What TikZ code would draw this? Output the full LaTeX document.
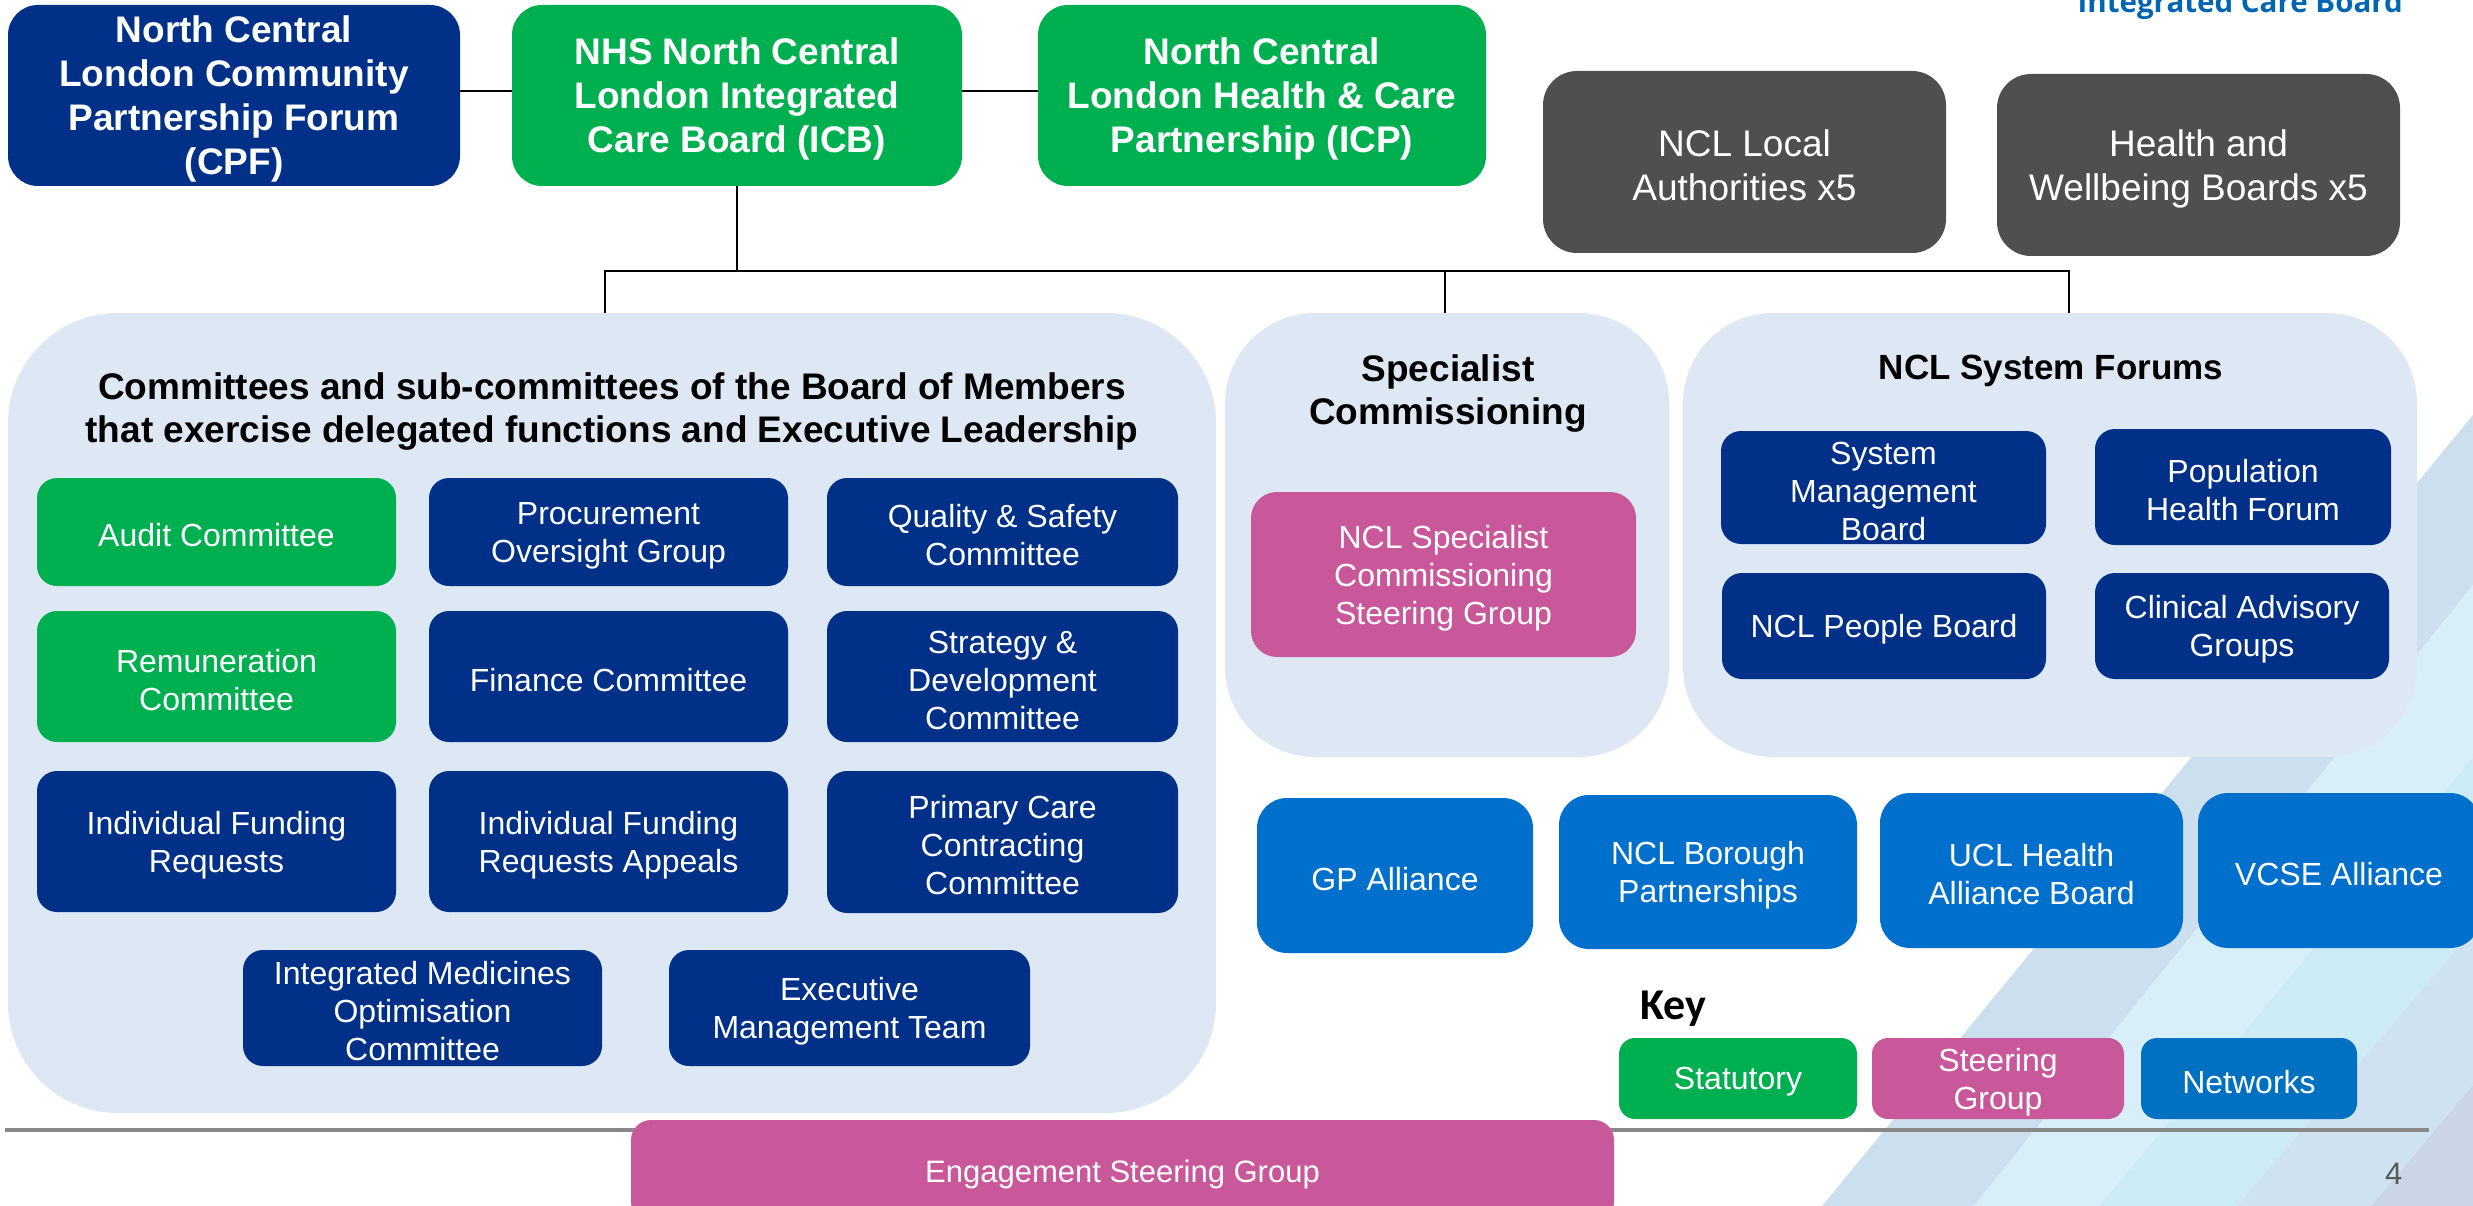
\documentclass[tikz,border=0pt]{standalone}
\usepackage{fontspec}
\setmainfont{Liberation Sans}
\newfontfamily\osans{Open Sans}
\newfontfamily\carl{Carlito}
\definecolor{navy}{HTML}{003087}
\definecolor{stgreen}{HTML}{00B050}
\definecolor{stpink}{HTML}{C9589B}
\definecolor{netblue}{HTML}{0070CC}
\definecolor{keyblue}{HTML}{0070C0}
\definecolor{darkgray}{HTML}{4F4F4F}
\definecolor{panelblue}{HTML}{DDE8F4}
\definecolor{rulegray}{HTML}{888888}
\definecolor{pagegray}{HTML}{595959}
\definecolor{icbblue}{HTML}{0066B3}
\definecolor{sA}{HTML}{CBDFEE}
\definecolor{sB}{HTML}{D8EFFA}
\definecolor{sC}{HTML}{CCEBF5}
\definecolor{sD}{HTML}{CEE2F1}
\definecolor{sE}{HTML}{CBD5E8}
% box: name, x1, y1, x2, y2, box style, text
\newcommand\bx[7]{%
  \pgfmathsetmacro\bxcx{(#2+#4)/2}\pgfmathsetmacro\bxcy{(#3+#5)/2}%
  \pgfmathsetmacro\bxw{#4-#2}\pgfmathsetmacro\bxh{#5-#3}%
  \pgfmathsetmacro\bxty{\bxcy+3.5}%
  \node[#6, minimum width=\bxw pt, minimum height=\bxh pt] (#1) at (\bxcx,\bxcy) {};
  \node[#6, fill=none, text=white] (#1-t) at (\bxcx,\bxty) {#7};}
% panel: name, x1, y1, x2, y2, radius
\newcommand\pn[6]{%
  \pgfmathsetmacro\bxcx{(#2+#4)/2}\pgfmathsetmacro\bxcy{(#3+#5)/2}%
  \pgfmathsetmacro\bxw{#4-#2}\pgfmathsetmacro\bxh{#5-#3}%
  \node[panel, rounded corners=#6pt, minimum width=\bxw pt, minimum height=\bxh pt] (#1) at (\bxcx,\bxcy) {};}
\tikzset{
  base box/.style={draw=none, inner sep=0pt, align=center, text=white},
  hdrbox/.style={base box, rounded corners=30pt, font=\bfseries\fontsize{37}{44}\selectfont},
  graybox/.style={base box, fill=darkgray, rounded corners=34pt, font=\fontsize{37}{44}\selectfont},
  cbox/.style={base box, rounded corners=20pt, font=\fontsize{32}{38}\selectfont},
  netbox/.style={base box, fill=netblue, rounded corners=30pt, font=\fontsize{32}{38}\selectfont},
  keybox/.style={base box, rounded corners=16pt, font=\fontsize{32}{38}\selectfont},
  panel/.style={draw=none, fill=panelblue, inner sep=0pt},
  ptitle/.style={inner sep=0pt, align=center, text=black, font=\bfseries\fontsize{37}{43}\selectfont},
  conn/.style={draw=black, line width=1.5pt}
}
\begin{document}
\begin{tikzpicture}[x=1pt,y=-1pt]
\useasboundingbox (0,0) rectangle (2473,1206);
\fill[white] (0,0) rectangle (2473,1206);
% background stripes
\begin{scope}
\clip (0,0) rectangle (2473,1206);
\fill[sA] (1822,1206) -- (1974,1206) -- (2473,585) -- (2473,415) -- cycle;
\fill[sB] (1974,1206) -- (2099,1206) -- (2473,757) -- (2473,585) -- cycle;
\fill[sC] (2099,1206) -- (2237,1206) -- (2473,930) -- (2473,757) -- cycle;
\fill[sD] (2237,1206) -- (2371,1206) -- (2473,1085) -- (2473,930) -- cycle;
\fill[sE] (2371,1206) -- (2473,1206) -- (2473,1085) -- cycle;
\end{scope}

% top text
\node[anchor=base east, inner sep=0pt, text=icbblue, font=\osans\bfseries\fontsize{29.5}{34}\selectfont] (hdr) at (2403,12.5) {Integrated Care Board};

% top boxes
\bx{cpf}{8}{5}{460}{186}{hdrbox, fill=navy}{North Central\\London Community\\Partnership Forum\\(CPF)}
\bx{icb}{512}{5}{962}{186}{hdrbox, fill=stgreen}{NHS North Central\\London Integrated\\Care Board (ICB)}
\bx{icp}{1038}{5}{1486}{186}{hdrbox, fill=stgreen}{North Central\\London Health \& Care\\Partnership (ICP)}
\bx{la}{1543}{71}{1946}{253}{graybox}{NCL Local\\Authorities x5}
\bx{hwb}{1997}{74}{2400}{256}{graybox}{Health and\\Wellbeing Boards x5}

% panels
\pn{pcomm}{8}{313}{1216}{1113}{110}
\pn{pspec}{1225}{313}{1669}{757}{90}
\pn{psys}{1683}{313}{2417}{757}{90}

% connectors
\coordinate (hy) at (0,91);
\draw[conn] (cpf.east |- hy) -- (icb.west |- hy);
\draw[conn] (icb.east |- hy) -- (icp.west |- hy);
\coordinate (jl) at (605,271);
\coordinate (jm) at (1445,271);
\coordinate (jr) at (2069,271);
\draw[conn] (icb.south) -- (icb.south |- jl);
\draw[conn] (jl |- pcomm.north) -- (jl) -- (jr) -- (jr |- psys.north);
\draw[conn] (jm) -- (jm |- pspec.north);

% panel titles
\node[ptitle] (tcomm) at (612,412) {Committees and sub-committees of the Board of Members\\that exercise delegated functions and Executive Leadership};
\node[ptitle] (tspec) at (1448,394) {Specialist\\Commissioning};
\node[ptitle, font=\bfseries\fontsize{35}{42}\selectfont] (tsys) at (2051,371) {NCL System Forums};

% committees
\bx{audit}{37}{478}{396}{586}{cbox, fill=stgreen}{Audit Committee}
\bx{proc}{429}{478}{788}{586}{cbox, fill=navy}{Procurement\\Oversight Group}
\bx{qual}{827}{478}{1178}{586}{cbox, fill=navy}{Quality \& Safety\\Committee}
\bx{remu}{37}{611}{396}{742}{cbox, fill=stgreen}{Remuneration\\Committee}
\bx{fin}{429}{611}{788}{742}{cbox, fill=navy}{Finance Committee}
\bx{strat}{827}{611}{1178}{742}{cbox, fill=navy}{Strategy \&\\Development\\Committee}
\bx{ifr}{37}{771}{396}{912}{cbox, fill=navy}{Individual Funding\\Requests}
\bx{ifra}{429}{771}{788}{912}{cbox, fill=navy}{Individual Funding\\Requests Appeals}
\bx{pcc}{827}{771}{1178}{913}{cbox, fill=navy}{Primary Care\\Contracting\\Committee}
\bx{imoc}{243}{950}{602}{1066}{cbox, fill=navy}{Integrated Medicines\\Optimisation\\Committee}
\bx{emt}{669}{950}{1030}{1066}{cbox, fill=navy}{Executive\\Management Team}

% specialist
\bx{scsg}{1251}{492}{1636}{657}{cbox, fill=stpink, rounded corners=26pt}{NCL Specialist\\Commissioning\\Steering Group}

% system forums
\bx{smb}{1721}{431}{2046}{544}{cbox, fill=navy}{System\\Management\\Board}
\bx{phf}{2095}{429}{2391}{545}{cbox, fill=navy}{Population\\Health Forum}
\bx{npb}{1722}{573}{2046}{679}{cbox, fill=navy}{NCL People Board}
\bx{cag}{2095}{573}{2389}{679}{cbox, fill=navy}{Clinical Advisory\\Groups}

% networks
\bx{gp}{1257}{798}{1533}{953}{netbox}{GP Alliance}
\bx{nbp}{1559}{795}{1857}{949}{netbox}{NCL Borough\\Partnerships}
\bx{ucl}{1880}{793}{2183}{948}{netbox}{UCL Health\\Alliance Board}
\bx{vcse}{2198}{793}{2480}{948}{netbox}{VCSE Alliance}

% key
\node[anchor=base west, inner sep=0pt, font=\carl\bfseries\fontsize{44}{50}\selectfont] (key) at (1640,1019) {Key};
\bx{kstat}{1619}{1038}{1857}{1119}{keybox, fill=stgreen}{Statutory}
\bx{ksteer}{1872}{1038}{2124}{1119}{keybox, fill=stpink}{Steering\\Group}
\bx{knet}{2141}{1038}{2357}{1119}{keybox, fill=keyblue}{Networks}

% bottom rule and engagement group
\coordinate (rl) at (5,1130);
\coordinate (rr) at (2429,1130);
\draw[line width=3.5pt, rulegray] (rl) -- (rr);
\bx{esg}{631}{1120}{1614}{1222}{cbox, fill=stpink, font=\fontsize{31}{37}\selectfont}{Engagement Steering Group}

\node[anchor=base west, inner sep=0pt, text=pagegray, font=\fontsize{31}{37}\selectfont] (pnum) at (2385,1184) {4};
\end{tikzpicture}
\end{document}
